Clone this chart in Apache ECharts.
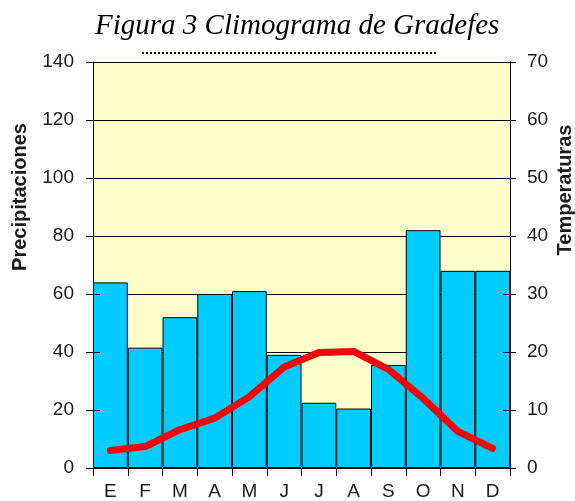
<!DOCTYPE html>
<html>
<head>
<meta charset="utf-8">
<script src="https://cdn.jsdelivr.net/npm/echarts@6/dist/echarts.min.js"></script>
<style>
  html, body { margin: 0; padding: 0; background: #fff; }
  #chart { width: 575px; height: 501px; }
</style>
</head>
<body>
<div id="chart"></div>
<script>
const months = ['E', 'F', 'M', 'A', 'M', 'J', 'J', 'A', 'S', 'O', 'N', 'D'];
const precipitaciones = [64, 41.5, 52, 60, 61, 39, 22.5, 20.5, 35.5, 82, 68, 68];
const temperaturas = [3, 3.7, 6.6, 8.6, 12.3, 17.4, 19.9, 20.1, 17, 12, 6.3, 3.4];

const labelFont = { color: '#1a1a1a', fontSize: 19, fontFamily: 'Liberation Sans, Arial' };
const blackLine = { lineStyle: { color: '#000', width: 1 } };

// eje "fantasma" para pintar la parte interior de las marcas por encima de las barras
function innerTicks(position, max, interval) {
  return {
    type: 'value', position, min: 0, max, interval, z: 10,
    axisLine: { show: false },
    axisLabel: { show: false },
    splitLine: { show: false },
    axisTick: { show: true, inside: true, length: 7, ...blackLine },
  };
}

const chart = echarts.init(document.getElementById('chart'));
chart.setOption({
  animation: false,
  backgroundColor: '#fff',
  title: {
    text: 'Figura 3 Climograma de Gradefes',
    left: 90,
    top: 7,
    textStyle: {
      fontFamily: 'Liberation Serif, Times New Roman',
      fontStyle: 'italic',
      fontWeight: 'normal',
      fontSize: 29,
      color: '#000',
    },
  },
  graphic: [
    {
      type: 'line',
      shape: { x1: 142, y1: 53, x2: 438, y2: 53 },
      style: { stroke: '#000', lineWidth: 2, lineDash: [2, 2] },
    },
    {
      type: 'text', x: 20, y: 197, rotation: Math.PI / 2,
      style: {
        text: 'Precipitaciones', fill: '#1a1a1a', font: 'bold 20px Liberation Sans, Arial',
        align: 'center', verticalAlign: 'middle',
      },
    },
    {
      type: 'text', x: 565, y: 190, rotation: Math.PI / 2,
      style: {
        text: 'Temperaturas', fill: '#1a1a1a', font: 'bold 20px Liberation Sans, Arial',
        align: 'center', verticalAlign: 'middle',
      },
    },
  ],
  grid: {
    left: 93, right: 65, top: 62, bottom: 31,
    show: true, backgroundColor: '#FFFFCC', borderWidth: 0,
  },
  xAxis: {
    type: 'category',
    data: months,
    boundaryGap: true,
    z: 10,
    axisLine: blackLine,
    axisTick: { show: true, length: 8, alignWithLabel: false, ...blackLine },
    axisLabel: { ...labelFont, margin: 14, interval: 0 },
  },
  yAxis: [
    {
      type: 'value', position: 'left', min: 0, max: 140, interval: 20,
      axisLine: { show: true, ...blackLine },
      axisTick: { show: true, length: 7, ...blackLine },
      axisLabel: { ...labelFont, margin: 19 },
      splitLine: { show: true, ...blackLine },
    },
    {
      type: 'value', position: 'right', min: 0, max: 70, interval: 10, z: 10,
      axisLine: { show: true, ...blackLine },
      axisTick: { show: true, length: 6, ...blackLine },
      axisLabel: { ...labelFont, margin: 17 },
      splitLine: { show: false },
    },
    innerTicks('left', 140, 20),
    innerTicks('right', 70, 10),
  ],
  series: [
    {
      name: 'Precipitaciones',
      type: 'bar',
      yAxisIndex: 0,
      barCategoryGap: '0%',
      data: precipitaciones,
      itemStyle: { color: '#00CCFF', borderColor: '#000', borderWidth: 1 },
    },
    {
      name: 'Temperaturas',
      type: 'line',
      yAxisIndex: 1,
      z: 5,
      showSymbol: false,
      data: temperaturas,
      lineStyle: { color: '#FF0000', width: 7, cap: 'round', join: 'round' },
    },
  ],
});
</script>
</body>
</html>
